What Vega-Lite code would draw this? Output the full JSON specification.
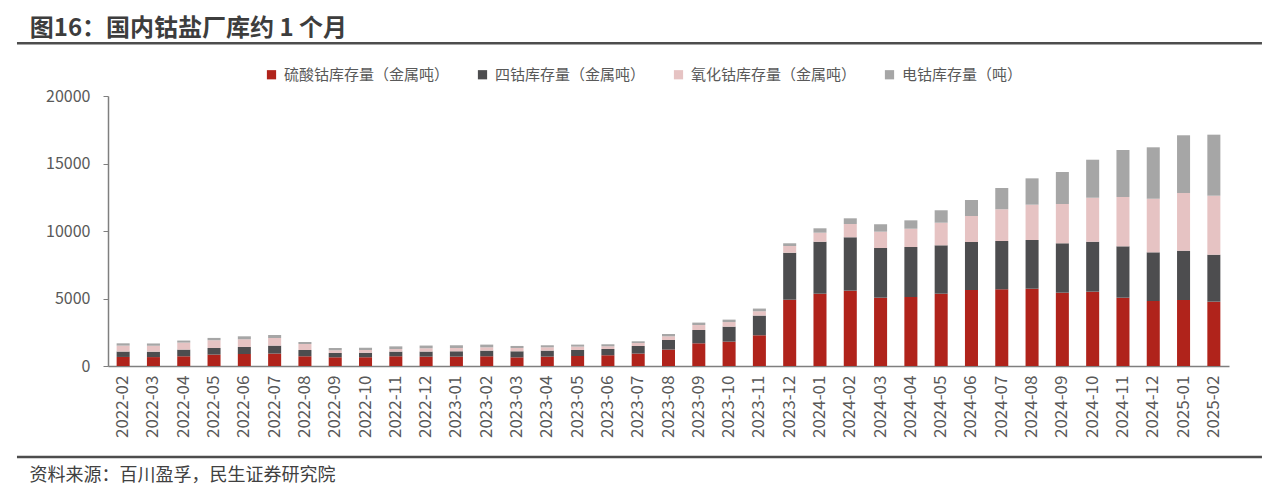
{
  "$schema": "https://vega.github.io/schema/vega-lite/v6.json",
  "width": 1121,
  "height": 270,
  "padding": {"left": 15, "top": 17, "right": 13, "bottom": 5},
  "background": "white",
  "config": {"view": {"stroke": null}, "font": "Noto Sans CJK SC"},
  "title": {"text": "图16：国内钴盐厂库约 1 个月", "anchor": "start", "frame": "bounds", "fontSize": 24, "fontWeight": "bold", "color": "#3d3d3d", "dx": 14, "offset": 1, "font": "Noto Sans CJK SC"},
  "datasets": {
    "stock": [
      {"m": "2022-02", "硫酸钴库存量（金属吨）": 670, "四钴库存量（金属吨）": 400, "氧化钴库存量（金属吨）": 440, "电钴库存量（吨）": 170},
      {"m": "2022-03", "硫酸钴库存量（金属吨）": 660, "四钴库存量（金属吨）": 400, "氧化钴库存量（金属吨）": 440, "电钴库存量（吨）": 170},
      {"m": "2022-04", "硫酸钴库存量（金属吨）": 720, "四钴库存量（金属吨）": 495, "氧化钴库存量（金属吨）": 520, "电钴库存量（吨）": 150},
      {"m": "2022-05", "硫酸钴库存量（金属吨）": 845, "四钴库存量（金属吨）": 490, "氧化钴库存量（金属吨）": 575, "电钴库存量（吨）": 170},
      {"m": "2022-06", "硫酸钴库存量（金属吨）": 890, "四钴库存量（金属吨）": 520, "氧化钴库存量（金属吨）": 570, "电钴库存量（吨）": 220},
      {"m": "2022-07", "硫酸钴库存量（金属吨）": 920, "四钴库存量（金属吨）": 590, "氧化钴库存量（金属吨）": 565, "电钴库存量（吨）": 220},
      {"m": "2022-08", "硫酸钴库存量（金属吨）": 720, "四钴库存量（金属吨）": 465, "氧化钴库存量（金属吨）": 445, "电钴库存量（吨）": 150},
      {"m": "2022-09", "硫酸钴库存量（金属吨）": 645, "四钴库存量（金属吨）": 320, "氧化钴库存量（金属吨）": 200, "电钴库存量（吨）": 170},
      {"m": "2022-10", "硫酸钴库存量（金属吨）": 645, "四钴库存量（金属吨）": 345, "氧化钴库存量（金属吨）": 195, "电钴库存量（吨）": 170},
      {"m": "2022-11", "硫酸钴库存量（金属吨）": 720, "四钴库存量（金属吨）": 345, "氧化钴库存量（金属吨）": 190, "电钴库存量（吨）": 200},
      {"m": "2022-12", "硫酸钴库存量（金属吨）": 695, "四钴库存量（金属吨）": 375, "氧化钴库存量（金属吨）": 245, "电钴库存量（吨）": 200},
      {"m": "2023-01", "硫酸钴库存量（金属吨）": 695, "四钴库存量（金属吨）": 395, "氧化钴库存量（金属吨）": 245, "电钴库存量（吨）": 200},
      {"m": "2023-02", "硫酸钴库存量（金属吨）": 720, "四钴库存量（金属吨）": 420, "氧化钴库存量（金属吨）": 245, "电钴库存量（吨）": 200},
      {"m": "2023-03", "硫酸钴库存量（金属吨）": 640, "四钴库存量（金属吨）": 450, "氧化钴库存量（金属吨）": 245, "电钴库存量（吨）": 150},
      {"m": "2023-04", "硫酸钴库存量（金属吨）": 695, "四钴库存量（金属吨）": 445, "氧化钴库存量（金属吨）": 245, "电钴库存量（吨）": 150},
      {"m": "2023-05", "硫酸钴库存量（金属吨）": 740, "四钴库存量（金属吨）": 445, "氧化钴库存量（金属吨）": 250, "电钴库存量（吨）": 150},
      {"m": "2023-06", "硫酸钴库存量（金属吨）": 795, "四钴库存量（金属吨）": 465, "氧化钴库存量（金属吨）": 200, "电钴库存量（吨）": 150},
      {"m": "2023-07", "硫酸钴库存量（金属吨）": 920, "四钴库存量（金属吨）": 560, "氧化钴库存量（金属吨）": 225, "电钴库存量（吨）": 125},
      {"m": "2023-08", "硫酸钴库存量（金属吨）": 1215, "四钴库存量（金属吨）": 710, "氧化钴库存量（金属吨）": 275, "电钴库存量（吨）": 170},
      {"m": "2023-09", "硫酸钴库存量（金属吨）": 1680, "四钴库存量（金属吨）": 985, "氧化钴库存量（金属吨）": 370, "电钴库存量（吨）": 180},
      {"m": "2023-10", "硫酸钴库存量（金属吨）": 1805, "四钴库存量（金属吨）": 1110, "氧化钴库存量（金属吨）": 340, "电钴库存量（吨）": 180},
      {"m": "2023-11", "硫酸钴库存量（金属吨）": 2275, "四钴库存量（金属吨）": 1460, "氧化钴库存量（金属吨）": 320, "电钴库存量（吨）": 200},
      {"m": "2023-12", "硫酸钴库存量（金属吨）": 4910, "四钴库存量（金属吨）": 3480, "氧化钴库存量（金属吨）": 500, "电钴库存量（吨）": 200},
      {"m": "2024-01", "硫酸钴库存量（金属吨）": 5355, "四钴库存量（金属吨）": 3850, "氧化钴库存量（金属吨）": 670, "电钴库存量（吨）": 325},
      {"m": "2024-02", "硫酸钴库存量（金属吨）": 5580, "四钴库存量（金属吨）": 3955, "氧化钴库存量（金属吨）": 985, "电钴库存量（吨）": 420},
      {"m": "2024-03", "硫酸钴库存量（金属吨）": 5060, "四钴库存量（金属吨）": 3680, "氧化钴库存量（金属吨）": 1210, "电钴库存量（吨）": 550},
      {"m": "2024-04", "硫酸钴库存量（金属吨）": 5110, "四钴库存量（金属吨）": 3705, "氧化钴库存量（金属吨）": 1355, "电钴库存量（吨）": 620},
      {"m": "2024-05", "硫酸钴库存量（金属吨）": 5355, "四钴库存量（金属吨）": 3585, "氧化钴库存量（金属吨）": 1675, "电钴库存量（吨）": 920},
      {"m": "2024-06", "硫酸钴库存量（金属吨）": 5630, "四钴库存量（金属吨）": 3555, "氧化钴库存量（金属吨）": 1925, "电钴库存量（吨）": 1185},
      {"m": "2024-07", "硫酸钴库存量（金属吨）": 5680, "四钴库存量（金属吨）": 3580, "氧化钴库存量（金属吨）": 2350, "电钴库存量（吨）": 1575},
      {"m": "2024-08", "硫酸钴库存量（金属吨）": 5725, "四钴库存量（金属吨）": 3610, "氧化钴库存量（金属吨）": 2615, "电钴库存量（吨）": 1950},
      {"m": "2024-09", "硫酸钴库存量（金属吨）": 5430, "四钴库存量（金属吨）": 3660, "氧化钴库存量（金属吨）": 2910, "电钴库存量（吨）": 2370},
      {"m": "2024-10", "硫酸钴库存量（金属吨）": 5505, "四钴库存量（金属吨）": 3700, "氧化钴库存量（金属吨）": 3260, "电钴库存量（吨）": 2815},
      {"m": "2024-11", "硫酸钴库存量（金属吨）": 5060, "四钴库存量（金属吨）": 3805, "氧化钴库存量（金属吨）": 3655, "电钴库存量（吨）": 3480},
      {"m": "2024-12", "硫酸钴库存量（金属吨）": 4815, "四钴库存量（金属吨）": 3605, "氧化钴库存量（金属吨）": 3970, "电钴库存量（吨）": 3810},
      {"m": "2025-01", "硫酸钴库存量（金属吨）": 4890, "四钴库存量（金属吨）": 3650, "氧化钴库存量（金属吨）": 4275, "电钴库存量（吨）": 4275},
      {"m": "2025-02", "硫酸钴库存量（金属吨）": 4765, "四钴库存量（金属吨）": 3480, "氧化钴库存量（金属吨）": 4370, "电钴库存量（吨）": 4520}
    ],
    "series": [
      {"s": "硫酸钴库存量（金属吨）", "k": 1},
      {"s": "四钴库存量（金属吨）", "k": 2},
      {"s": "氧化钴库存量（金属吨）", "k": 3},
      {"s": "电钴库存量（吨）", "k": 4}
    ]
  },
  "layer": [
    {
      "data": {"name": "stock"},
      "transform": [
        {"fold": ["硫酸钴库存量（金属吨）", "四钴库存量（金属吨）", "氧化钴库存量（金属吨）", "电钴库存量（吨）"], "as": ["s", "v"]},
        {"lookup": "s", "from": {"data": {"name": "series"}, "key": "s", "fields": ["k"]}}
      ],
      "mark": {"type": "bar"},
      "encoding": {
        "x": {
          "field": "m", "type": "ordinal", "sort": null,
          "scale": {"paddingInner": 0.57, "paddingOuter": 0.285},
          "axis": {
            "labelAngle": -90, "labelFontSize": 17, "labelColor": "#595959", "labelPadding": 9,
            "ticks": false, "domainColor": "#7f7f7f", "domainWidth": 1.5,
            "title": "资料来源：百川盈孚，民生证券研究院", "titleAnchor": "start", "titleAlign": "left",
            "titleX": -79, "titleFontSize": 18, "titleFontWeight": "normal", "titleColor": "#404040", "titlePadding": 29
          }
        },
        "y": {
          "field": "v", "type": "quantitative", "stack": "zero",
          "scale": {"domain": [0, 20000], "nice": false},
          "axis": {
            "values": [0, 5000, 10000, 15000, 20000], "format": "d", "grid": false, "title": null,
            "labelFontSize": 16, "labelColor": "#595959", "domainColor": "#7f7f7f", "domainWidth": 1.5,
            "tickColor": "#7f7f7f", "tickSize": 5, "labelPadding": 13
          }
        },
        "color": {
          "field": "s", "type": "nominal",
          "scale": {
            "domain": ["硫酸钴库存量（金属吨）", "四钴库存量（金属吨）", "氧化钴库存量（金属吨）", "电钴库存量（吨）"],
            "range": ["#B0231B", "#4D4D4F", "#E6C3C3", "#A6A6A6"]
          },
          "legend": {
            "orient": "none", "legendX": 156, "legendY": -29, "direction": "horizontal", "columns": 4,
            "title": null, "symbolType": "square", "symbolSize": 85, "symbolStrokeWidth": 0,
            "labelFontSize": 15, "labelLimit": 400, "labelColor": "#595959", "columnPadding": 25, "labelOffset": 5
          }
        },
        "order": {"field": "k", "type": "quantitative", "sort": "ascending"}
      }
    },
    {
      "data": {"values": [{}]},
      "mark": {"type": "rule", "color": "#4d4d4d", "strokeWidth": 2.5},
      "encoding": {
        "y": {"datum": 23900, "type": "quantitative"},
        "x": {"datum": -0.0812, "type": "quantitative", "scale": {"domain": [0, 1], "nice": false, "zero": false}, "axis": null},
        "x2": {"datum": 1.0294}
      }
    },
    {
      "data": {"values": [{}]},
      "mark": {"type": "rule", "color": "#4d4d4d", "strokeWidth": 2.5},
      "encoding": {
        "y": {"datum": -6740, "type": "quantitative"},
        "x": {"datum": -0.0812, "type": "quantitative", "scale": {"domain": [0, 1], "nice": false, "zero": false}, "axis": null},
        "x2": {"datum": 1.0294}
      }
    }
  ],
  "resolve": {"scale": {"x": "independent"}}
}
